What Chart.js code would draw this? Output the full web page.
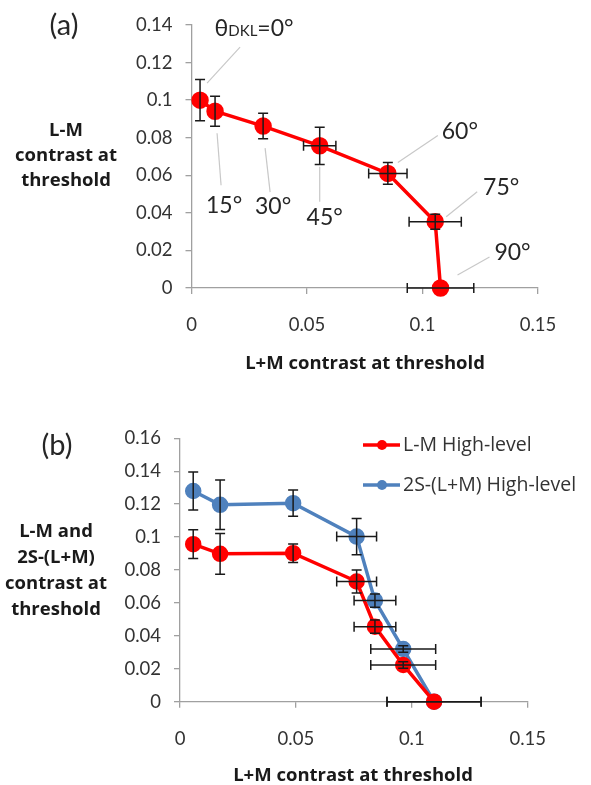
<!DOCTYPE html>
<html>
<head>
<meta charset="utf-8">
<script src="https://cdn.jsdelivr.net/npm/chart.js@4.4.1/dist/chart.umd.min.js"></script>
<style>
  html, body { margin: 0; padding: 0; background: #fff; }
  canvas { position: absolute; left: 0; }
  #chartA { top: 0; }
  #chartB { top: 390px; }
</style>
</head>
<body>
<canvas id="chartA" width="591" height="390"></canvas>
<canvas id="chartB" width="591" height="395"></canvas>
<script>
// ---- panel (a): L-M vs L+M thresholds, one point per DKL angle
const anglesA = ["0°", "15°", "30°", "45°", "60°", "75°", "90°"];
const lumThreshA = [0.0037, 0.0102, 0.031, 0.0555, 0.085, 0.1055, 0.1078];
const lmThreshA = [0.100, 0.0941, 0.0862, 0.0757, 0.061, 0.0353, 0.0];
const lumErrA = [0, 0, 0, 0.007, 0.0083, 0.0113, 0.0144];
const lmErrA = [0.011, 0.008, 0.0068, 0.0099, 0.0058, 0.004, 0];

// ---- panel (b): high-level thresholds
const lumThreshB = [0.0057, 0.0173, 0.0488, 0.0762, 0.0841, 0.0963, 0.1096];
const lmHighLevel = [0.0957, 0.0898, 0.0902, 0.073, 0.0456, 0.0223, 0.0];
const sHighLevel = [0.128, 0.1196, 0.1206, 0.1003, 0.0614, 0.032, 0.0];
const lumErrB = [0, 0, 0, 0.0086, 0.009, 0.014, 0.0203];
const lmErrB = [0.0087, 0.0124, 0.0056, 0.007, 0.004, 0.002, 0];
const sErrB = [0.0116, 0.015, 0.008, 0.011, 0.004, 0.002, 0];

const xTicks = [0, 0.05, 0.1, 0.15];
const yTicksA = [0, 0.02, 0.04, 0.06, 0.08, 0.1, 0.12, 0.14];
const yTicksB = [0, 0.02, 0.04, 0.06, 0.08, 0.1, 0.12, 0.14, 0.16];

const RED = "#ff0000";
const BLUE = "#4f81bd";
const TEXT = "#333333";
const FONT = "Lato, 'Open Sans', sans-serif";
const WIDE = "'Open Sans', Lato, sans-serif";

// leader line offsets and label offsets (px) relative to each point in (a)
const calloutA = [
    { lead: [7, -17, 40, -53], text: [54, -72] },
    { lead: [2, 22, 6, 74], text: [9, 94] },
    { lead: [2, 22, 7, 66], text: [10, 81] },
    { lead: [0, 21, 0, 56], text: [5, 72] },
    { lead: [10, -11, 50, -38], text: [72, -42] },
    { lead: [11, -5, 42, -30], text: [66, -34] },
    { lead: [17, -13, 49, -31], text: [72, -35] }
];

function toPoints(xs, ys) {
    return xs.map((x, i) => ({ x: x, y: ys[i] }));
}

const errorBars = {
    id: "errorBars",
    afterDatasetsDraw(chart) {
        const ctx = chart.ctx;
        const xs = chart.scales.x;
        const ys = chart.scales.y;
        const cap = 5;
        ctx.save();
        ctx.strokeStyle = "#1a1a1a";
        ctx.lineWidth = 1.5;
        chart.data.datasets.forEach(ds => {
            if (!ds.errX) return;
            ds.data.forEach((p, j) => {
                const px = xs.getPixelForValue(p.x);
                const py = ys.getPixelForValue(p.y);
                const ex = ds.errX[j];
                const ey = ds.errY[j];
                ctx.beginPath();
                if (ex > 0) {
                    const x0 = xs.getPixelForValue(p.x - ex);
                    const x1 = xs.getPixelForValue(p.x + ex);
                    ctx.moveTo(x0, py); ctx.lineTo(x1, py);
                    ctx.moveTo(x0, py - cap); ctx.lineTo(x0, py + cap);
                    ctx.moveTo(x1, py - cap); ctx.lineTo(x1, py + cap);
                }
                if (ey > 0) {
                    const y0 = ys.getPixelForValue(p.y - ey);
                    const y1 = ys.getPixelForValue(p.y + ey);
                    ctx.moveTo(px, y0); ctx.lineTo(px, y1);
                    ctx.moveTo(px - cap, y0); ctx.lineTo(px + cap, y0);
                    ctx.moveTo(px - cap, y1); ctx.lineTo(px + cap, y1);
                }
                ctx.stroke();
            });
        });
        ctx.restore();
    }
};

const decor = {
    id: "decor",
    afterDraw(chart, args, opts) {
        const ctx = chart.ctx;
        ctx.save();
        ctx.fillStyle = "#262626";
        ctx.textAlign = "center";
        ctx.textBaseline = "middle";
        ctx.font = "29px " + FONT;
        ctx.fillText(opts.panel, opts.panelPos[0], opts.panelPos[1]);

        ctx.fillStyle = "#1a1a1a";
        ctx.font = "bold 18.5px " + WIDE;
        opts.yTitle.forEach((line, i) => {
            ctx.fillText(line, opts.yTitlePos[0], opts.yTitlePos[1] + i * opts.yTitlePos[2]);
        });
        ctx.fillText(opts.xTitle, opts.xTitlePos[0], opts.xTitlePos[1]);
        ctx.restore();
    }
};

const callouts = {
    id: "callouts",
    afterDatasetsDraw(chart) {
        const ctx = chart.ctx;
        const meta = chart.getDatasetMeta(0);
        ctx.save();
        meta.data.forEach((el, i) => {
            const c = calloutA[i];
            ctx.strokeStyle = "#c8c8c8";
            ctx.lineWidth = 1.2;
            ctx.beginPath();
            ctx.moveTo(el.x + c.lead[0], el.y + c.lead[1]);
            ctx.lineTo(el.x + c.lead[2], el.y + c.lead[3]);
            ctx.stroke();

            const tx = el.x + c.text[0];
            const ty = el.y + c.text[1];
            ctx.fillStyle = "#262626";
            ctx.textBaseline = "middle";
            if (i === 0) {
                // θ with DKL subscript
                const big = "23px " + FONT, small = "15px " + FONT;
                ctx.font = big;
                const w1 = ctx.measureText("θ").width;
                const w3 = ctx.measureText("=" + anglesA[0]).width;
                ctx.font = small;
                const w2 = ctx.measureText("DKL").width;
                let x = tx - (w1 + w2 + w3) / 2;
                ctx.textAlign = "left";
                ctx.textBaseline = "alphabetic";
                const base = ty + 8;
                ctx.font = big;
                ctx.fillText("θ", x, base); x += w1;
                ctx.font = small;
                ctx.fillText("DKL", x, base); x += w2;
                ctx.font = big;
                ctx.fillText("=" + anglesA[0], x, base);
            } else {
                ctx.textAlign = "center";
                ctx.font = "23px " + FONT;
                ctx.fillText(anglesA[i], tx, ty);
            }
        });
        ctx.restore();
    }
};

const legendB = {
    id: "legendB",
    afterDraw(chart) {
        const ctx = chart.ctx;
        const rows = [55, 95];
        ctx.save();
        chart.data.datasets.forEach((ds, i) => {
            const y = rows[i];
            ctx.strokeStyle = ds.borderColor;
            ctx.lineWidth = 3.5;
            ctx.beginPath();
            ctx.moveTo(363, y); ctx.lineTo(400, y);
            ctx.stroke();
            ctx.fillStyle = ds.borderColor;
            ctx.beginPath();
            ctx.arc(382, y, 5, 0, Math.PI * 2);
            ctx.fill();
            ctx.fillStyle = TEXT;
            ctx.font = "19.5px " + WIDE;
            ctx.textAlign = "left";
            ctx.textBaseline = "middle";
            ctx.fillText(ds.label, 403, y);
        });
        ctx.restore();
    }
};

function scales(yTicks, yMax, leftWidth, bottomHeight) {
    const grid = { display: true, drawOnChartArea: false, drawTicks: true, tickLength: 6, color: "#a0a0a0", lineWidth: 1.3 };
    const border = { display: true, color: "#a0a0a0", width: 1.3 };
    const tickFont = { family: FONT, size: 18.5 };
    return {
        x: {
            type: "linear", min: 0, max: 0.15,
            grid: grid, border: border,
            afterBuildTicks: s => { s.ticks = xTicks.map(v => ({ value: v })); },
            afterFit: s => { s.height = bottomHeight; },
            ticks: { font: tickFont, color: TEXT, padding: 20, maxRotation: 0, callback: v => String(v) }
        },
        y: {
            type: "linear", min: 0, max: yMax,
            grid: grid, border: border,
            afterBuildTicks: s => { s.ticks = yTicks.map(v => ({ value: v })); },
            afterFit: s => { s.width = leftWidth; },
            ticks: { font: tickFont, color: TEXT, padding: 13, callback: v => String(v) }
        }
    };
}

new Chart(document.getElementById("chartA"), {
    type: "line",
    data: {
        datasets: [{
            label: "L-M",
            data: toPoints(lumThreshA, lmThreshA),
            errX: lumErrA,
            errY: lmErrA,
            borderColor: RED,
            backgroundColor: RED,
            borderWidth: 3.5,
            pointRadius: 7,
            pointBackgroundColor: RED,
            pointBorderColor: RED,
            tension: 0,
            clip: false
        }]
    },
    options: {
        responsive: false,
        animation: false,
        layout: { padding: { top: 25, right: 53, left: 0, bottom: 0 } },
        plugins: {
            legend: { display: false },
            tooltip: { enabled: false },
            decor: {
                panel: "(a)", panelPos: [64, 26],
                yTitle: ["L-M", "contrast at", "threshold"], yTitlePos: [66, 131, 25],
                xTitle: "L+M contrast at threshold", xTitlePos: [365, 364]
            }
        },
        scales: scales(yTicksA, 0.14, 191.5, 102)
    },
    plugins: [errorBars, callouts, decor]
});

new Chart(document.getElementById("chartB"), {
    type: "line",
    data: {
        datasets: [{
            label: "L-M High-level",
            data: toPoints(lumThreshB, lmHighLevel),
            errX: lumErrB,
            errY: lmErrB,
            borderColor: RED,
            backgroundColor: RED,
            borderWidth: 3.5,
            pointRadius: 6.5,
            pointBackgroundColor: RED,
            pointBorderColor: RED,
            tension: 0,
            clip: false
        }, {
            label: "2S-(L+M) High-level",
            data: toPoints(lumThreshB, sHighLevel),
            errX: lumErrB,
            errY: sErrB,
            borderColor: BLUE,
            backgroundColor: BLUE,
            borderWidth: 3.5,
            pointRadius: 6.5,
            pointBackgroundColor: BLUE,
            pointBorderColor: BLUE,
            tension: 0,
            clip: false
        }]
    },
    options: {
        responsive: false,
        animation: false,
        layout: { padding: { top: 48.3, right: 63.3, left: 0, bottom: 0 } },
        plugins: {
            legend: { display: false },
            tooltip: { enabled: false },
            decor: {
                panel: "(b)", panelPos: [57, 56],
                yTitle: ["L-M and", "2S-(L+M)", "contrast at", "threshold"], yTitlePos: [56, 142, 26],
                xTitle: "L+M contrast at threshold", xTitlePos: [353, 386]
            }
        },
        scales: scales(yTicksB, 0.16, 180, 83.3)
    },
    plugins: [errorBars, legendB, decor]
});
</script>
</body>
</html>
